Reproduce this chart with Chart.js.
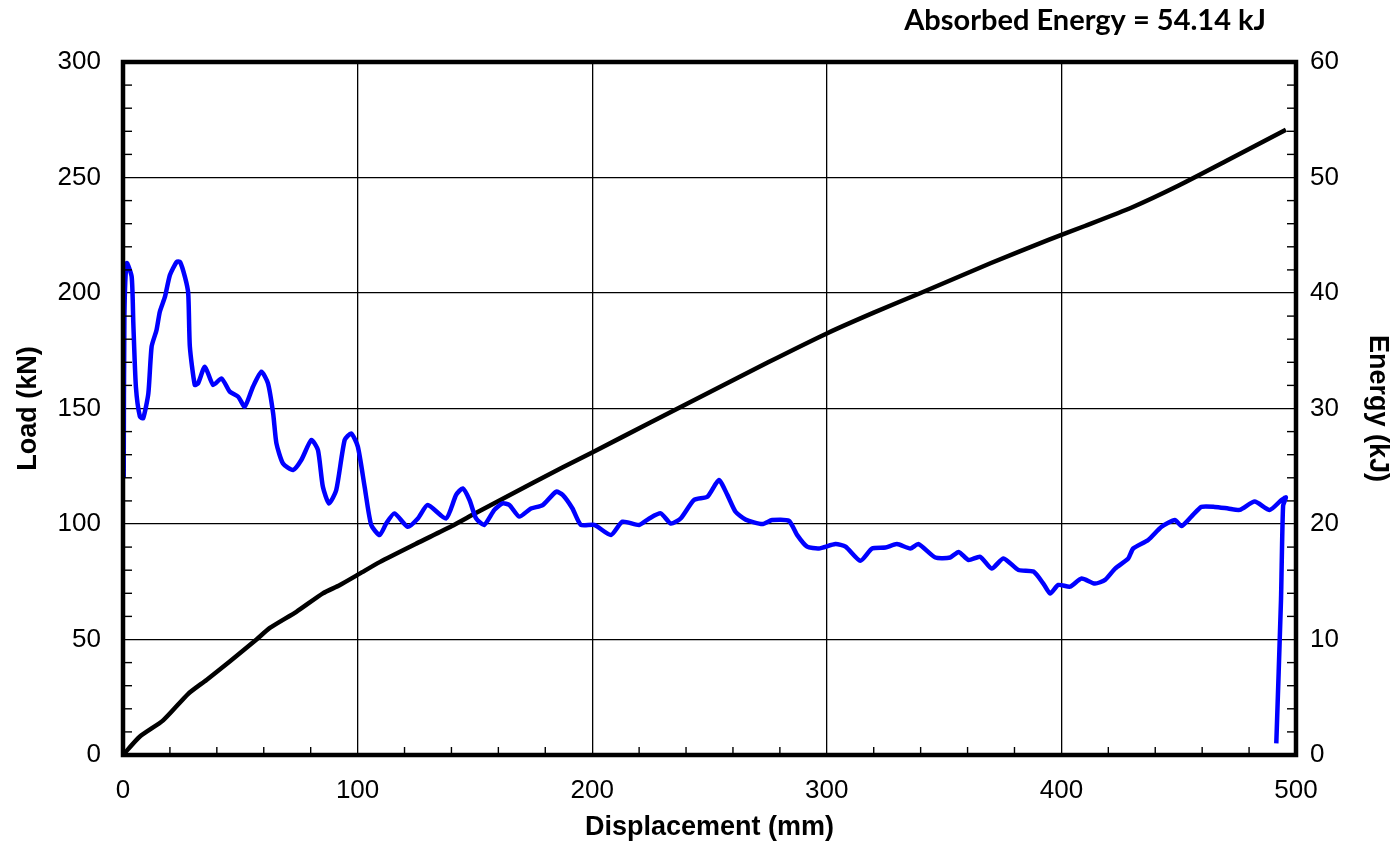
<!DOCTYPE html>
<html>
<head>
<meta charset="utf-8">
<title>Load and energy vs displacement</title>
<script src="https://cdn.jsdelivr.net/npm/chart.js@4.4.1/dist/chart.umd.min.js"></script>
<style>
  body { margin: 0; background: #fff; }
  #wrap { width: 1394px; height: 845px; }
</style>
</head>
<body>
<div id="wrap"><canvas id="myChart" width="1394" height="845"></canvas></div>
<script>
// load curve (mm, kN)
const loadDisp = [0.3, 0.6, 1.6, 3.7, 4.4, 5.5, 7.2, 8.6, 10.8, 12.2,
  14.3, 15.7, 17.9, 20.0, 22.9, 24.3, 26.4, 27.8, 28.5, 30.6,
  32.0, 34.9, 38.4, 42.0, 45.5, 49.1, 51.9, 55.4, 59.0, 61.8,
  64.0, 65.4, 68.2, 72.5, 76.0, 80.3, 83.1, 85.2, 87.8, 90.9,
  94.5, 97.3, 100.1, 103.0, 105.8, 109.4, 112.2, 115.7, 121.4, 125.7,
  129.9, 137.7, 142.0, 144.8, 147.7, 150.5, 154.0, 158.3, 161.8, 164.7,
  168.9, 173.9, 178.9, 184.6, 187.4, 191.6, 195.2, 200.9, 208.0, 212.9,
  220.0, 224.3, 229.2, 233.5, 237.7, 243.4, 249.1, 254.0, 257.6, 261.1,
  265.4, 272.5, 276.7, 283.8, 287.4, 291.6, 296.6, 303.7, 308.0, 314.3,
  319.3, 325.0, 329.9, 335.6, 339.1, 346.3, 352.6, 356.2, 360.4, 365.4,
  370.3, 375.3, 381.7, 388.1, 392.3, 395.2, 398.7, 403.7, 408.6, 414.3,
  418.6, 422.9, 428.5, 430.6, 437.0, 442.7, 448.4, 451.2, 455.4, 459.7,
  465.4, 471.1, 476.0, 482.4, 488.8, 493.8, 495.7, 494.5, 493.6, 491.6]
const loadKN = [120, 190, 212.9, 207, 186.9, 159.4, 146.5, 145.8, 156.5, 176.8,
  184, 191.9, 198.4, 207.8, 213.5, 213.5, 207, 199.9, 176.8, 160.2,
  160.9, 168.1, 160.2, 163, 157.3, 155.1, 150.8, 159.4, 165.9, 160.9,
  147.9, 134.9, 126.2, 123.4, 127.7, 136.4, 132, 116.1, 108.9, 114.7,
  136.4, 139.2, 133.5, 116.1, 99.6, 95.2, 100.2, 104.6, 98.8, 102.4,
  108.2, 102.4, 112.6, 115.4, 110.4, 102.4, 99.6, 106.1, 108.9, 108.2,
  103.2, 106.7, 108.2, 114, 112.6, 106.7, 99.6, 99.6, 95.2, 101,
  99.6, 102.4, 104.6, 100.2, 102.4, 110.4, 111.8, 119, 112.6, 105.3,
  101.9, 100, 101.7, 101.4, 95.2, 90.2, 89.4, 91.3, 90.2, 84.1,
  89.4, 89.8, 91.3, 89.4, 91.3, 85.5, 85.5, 87.9, 84.4, 85.8,
  80.7, 85.1, 80.1, 79.4, 74.2, 69.9, 73.6, 72.9, 76.4, 74.2,
  75.8, 80.7, 85.1, 89.4, 93.1, 98.8, 101.7, 99.1, 103.2, 107.4,
  107.4, 106.7, 106.1, 109.7, 106.1, 110.4, 111.5, 108, 67, 5]

// absorbed energy curve (mm, kJ)
const energyDisp = [0, 7.2, 17.1, 27.8, 35.6, 45.5, 56.9, 62.6, 73.9, 85.2,
  92.3, 100.9, 109.4, 125, 140, 150, 175, 200, 225, 250,
  275, 300, 320, 340, 370, 394.5, 410, 430, 450, 470, 495.7]
const energyKJ = [0, 1.6, 3.0, 5.3, 6.5, 8.1, 10.0, 11.0, 12.4, 14.0,
  14.7, 15.7, 16.7, 18.3, 19.8, 20.9, 23.6, 26.2, 28.8, 31.4,
  34.0, 36.5, 38.3, 40.0, 42.6, 44.6, 45.8, 47.4, 49.3, 51.4, 54.14]

const xTicks = { min: 0, max: 500, step: 100, minor: 20 }
const loadTicks = { min: 0, max: 300, step: 50, minor: 10 }
const energyTicks = { min: 0, max: 60, step: 10, minor: 2 }

const tickFont = { family: 'Liberation Sans, Arial, sans-serif', size: 26 }
const titleFont = { family: 'Liberation Sans, Arial, sans-serif', size: 27, weight: 'bold' }

// frame, inward minor ticks and the energy note
const frameTicks = {
  id: 'frameTicks',
  afterDatasetsDraw(chart) {
    const { ctx, chartArea: a, scales } = chart
    const line = (x1, y1, x2, y2) => { ctx.beginPath(); ctx.moveTo(x1, y1); ctx.lineTo(x2, y2); ctx.stroke() }
    ctx.save()
    ctx.strokeStyle = '#000'
    ctx.lineWidth = 1.4
    for (let v = xTicks.min + xTicks.minor; v < xTicks.max; v += xTicks.minor) {
      if (v % xTicks.step === 0) continue
      const px = scales.x.getPixelForValue(v)
      line(px, a.bottom, px, a.bottom - 8)
    }
    for (let v = loadTicks.min + loadTicks.minor; v < loadTicks.max; v += loadTicks.minor) {
      if (v % loadTicks.step === 0) continue
      const py = scales.y.getPixelForValue(v)
      line(a.left, py, a.left + 9, py)
    }
    for (let v = energyTicks.min + energyTicks.minor; v < energyTicks.max; v += energyTicks.minor) {
      if (v % energyTicks.step === 0) continue
      const py = scales.y2.getPixelForValue(v)
      line(a.right, py, a.right - 9, py)
    }
    ctx.lineWidth = 4.5
    ctx.strokeRect(a.left, a.top, a.right - a.left, a.bottom - a.top)

    ctx.fillStyle = '#000'
    ctx.font = 'bold 29px Lato, "Open Sans", sans-serif'
    ctx.textAlign = 'right'
    ctx.textBaseline = 'alphabetic'
    ctx.fillText(`Absorbed Energy = ${energyKJ[energyKJ.length - 1]} kJ`, a.right - 30, 30)
    ctx.restore()
  }
}

const toPoints = (xs, ys) => xs.map((x, i) => ({ x, y: ys[i] }))

new Chart(document.querySelector('#myChart'), {
  type: 'scatter',
  data: {
    datasets: [
      {
        label: 'Load',
        data: toPoints(loadDisp, loadKN),
        yAxisID: 'y',
        showLine: true,
        borderColor: '#0000ff',
        borderWidth: 4.5,
        pointRadius: 0,
        tension: 0.2
      },
      {
        label: 'Energy',
        data: toPoints(energyDisp, energyKJ),
        yAxisID: 'y2',
        showLine: true,
        borderColor: '#000000',
        borderWidth: 4.5,
        pointRadius: 0,
        tension: 0.2
      }
    ]
  },
  options: {
    responsive: false,
    animation: false,
    layout: { padding: { top: 62, left: 0, right: 0, bottom: 0 } },
    plugins: { legend: { display: false }, tooltip: { enabled: false } },
    scales: {
      x: {
        type: 'linear',
        min: xTicks.min,
        max: xTicks.max,
        ticks: { stepSize: xTicks.step, font: tickFont, color: '#000', padding: 20, maxRotation: 0 },
        grid: { color: '#000', lineWidth: 1.3, drawTicks: false },
        border: { display: false },
        title: { display: true, text: 'Displacement (mm)', font: titleFont, color: '#000', padding: { top: 1, bottom: 1 } },
        afterFit: (s) => { s.height = 90 }
      },
      y: {
        position: 'left',
        min: loadTicks.min,
        max: loadTicks.max,
        ticks: { stepSize: loadTicks.step, font: tickFont, color: '#000', padding: 22 },
        grid: { color: '#000', lineWidth: 1.3, drawTicks: false },
        border: { display: false },
        title: { display: true, text: 'Load (kN)', font: titleFont, color: '#000', padding: { top: 12, bottom: 0 } },
        afterFit: (s) => { s.width = 123 }
      },
      y2: {
        position: 'right',
        min: energyTicks.min,
        max: energyTicks.max,
        ticks: { stepSize: energyTicks.step, font: tickFont, color: '#000', padding: 14 },
        grid: { drawOnChartArea: false, drawTicks: false },
        border: { display: false },
        title: { display: true, text: 'Energy (kJ)', font: titleFont, color: '#000', padding: { top: 0, bottom: 0 } },
        afterFit: (s) => { s.width = 98 }
      }
    }
  },
  plugins: [frameTicks]
})
</script>
</body>
</html>
